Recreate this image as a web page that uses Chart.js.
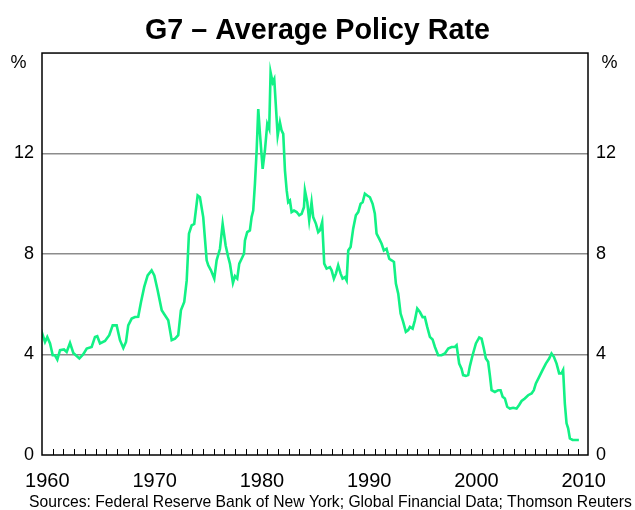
<!DOCTYPE html>
<html>
<head>
<meta charset="utf-8">
<script src="https://cdn.jsdelivr.net/npm/chart.js@4.4.1/dist/chart.umd.min.js"></script>
<style>
  body { margin: 0; background: #fff; }
  canvas { display: block; }
</style>
</head>
<body>
<canvas id="rateChart" width="635" height="510"></canvas>
<script>
// G7 average policy rate (decimal year, per cent)
const dates = [
  1960.00, 1960.07, 1960.28, 1960.49, 1960.75, 1961.00, 1961.21, 1961.43, 1961.68, 1962.05,
  1962.30, 1962.61, 1962.92, 1963.48, 1963.85, 1964.17, 1964.63, 1964.94, 1965.15, 1965.41,
  1965.87, 1966.27, 1966.59, 1966.96, 1967.27, 1967.58, 1967.83, 1968.04, 1968.36, 1968.67,
  1968.97, 1969.23, 1969.53, 1969.85, 1970.22, 1970.47, 1970.78, 1971.16, 1971.46, 1971.77,
  1972.09, 1972.40, 1972.70, 1972.95, 1973.26, 1973.49, 1973.70, 1973.95, 1974.19, 1974.51,
  1974.72, 1975.03, 1975.35, 1975.50, 1975.75, 1976.06, 1976.28, 1976.59, 1976.84, 1977.12,
  1977.36, 1977.52, 1977.80, 1977.99, 1978.20, 1978.39, 1978.61, 1978.83, 1978.92, 1979.13,
  1979.38, 1979.54, 1979.69, 1979.85, 1980.01, 1980.16, 1980.32, 1980.57, 1980.78, 1981.00,
  1981.18, 1981.31, 1981.50, 1981.65, 1981.81, 1981.97, 1982.18, 1982.34, 1982.49, 1982.65,
  1982.81, 1982.95, 1983.11, 1983.27, 1983.49, 1983.74, 1983.98, 1984.20, 1984.42, 1984.51,
  1984.73, 1984.91, 1985.13, 1985.28, 1985.54, 1985.75, 1985.91, 1986.12, 1986.31, 1986.53,
  1986.84, 1987.00, 1987.21, 1987.40, 1987.61, 1987.84, 1988.02, 1988.24, 1988.40, 1988.55,
  1988.77, 1989.01, 1989.26, 1989.48, 1989.70, 1989.89, 1990.10, 1990.32, 1990.57, 1990.82,
  1991.03, 1991.19, 1991.43, 1991.66, 1991.87, 1992.12, 1992.37, 1992.59, 1992.81, 1992.99,
  1993.21, 1993.43, 1993.67, 1993.92, 1994.14, 1994.30, 1994.55, 1994.76, 1994.98, 1995.23,
  1995.48, 1995.69, 1995.91, 1996.16, 1996.41, 1996.63, 1996.93, 1997.25, 1997.56, 1997.87,
  1998.18, 1998.49, 1998.65, 1998.89, 1999.11, 1999.26, 1999.51, 1999.73, 1999.89, 2000.14,
  2000.45, 2000.76, 2000.98, 2001.19, 2001.38, 2001.59, 2001.75, 2001.91, 2002.22, 2002.53,
  2002.75, 2002.94, 2003.15, 2003.37, 2003.62, 2003.92, 2004.24, 2004.48, 2004.71, 2005.01,
  2005.32, 2005.64, 2005.85, 2006.04, 2006.35, 2006.66, 2006.97, 2007.28, 2007.50, 2007.72,
  2007.97, 2008.21, 2008.43, 2008.58, 2008.74, 2008.90, 2009.05, 2009.21, 2009.46, 2010.05
];
const rates = [
  4.75, 4.77, 4.50, 4.70, 4.44, 3.97, 3.97, 3.80, 4.17, 4.20,
  4.10, 4.46, 4.06, 3.84, 4.01, 4.24, 4.30, 4.70, 4.73, 4.44,
  4.54, 4.77, 5.16, 5.16, 4.57, 4.26, 4.50, 5.16, 5.43, 5.49,
  5.50, 6.09, 6.69, 7.15, 7.35, 7.15, 6.56, 5.76, 5.56, 5.36,
  4.57, 4.63, 4.77, 5.76, 6.09, 6.95, 8.81, 9.14, 9.20, 10.33,
  10.26, 9.47, 7.75, 7.55, 7.35, 7.02, 7.75, 8.21, 9.20, 8.34,
  7.88, 7.62, 6.85, 7.12, 7.02, 7.62, 7.81, 8.01, 8.54, 8.87,
  8.94, 9.47, 9.73, 10.79, 12.12, 13.77, 12.78, 11.39, 12.12, 13.18,
  12.98, 15.23, 14.83, 14.97, 13.84, 12.71, 13.24, 12.91, 12.78, 11.32,
  10.53, 10.06, 10.13, 9.67, 9.73, 9.67, 9.54, 9.60, 9.86, 10.53,
  10.06, 9.34, 10.06, 9.47, 9.20, 8.87, 8.94, 9.27, 7.62, 7.42,
  7.48, 7.35, 7.02, 7.22, 7.55, 7.22, 7.02, 7.08, 6.95, 8.14,
  8.28, 9.01, 9.54, 9.67, 10.00, 10.06, 10.40, 10.33, 10.26, 10.00,
  9.60, 8.81, 8.61, 8.41, 8.14, 8.21, 7.81, 7.75, 7.68, 6.82,
  6.42, 5.63, 5.30, 4.90, 4.97, 5.10, 5.03, 5.36, 5.83, 5.69,
  5.49, 5.49, 5.10, 4.70, 4.60, 4.30, 3.97, 3.97, 4.04, 4.24,
  4.30, 4.30, 4.37, 3.64, 3.44, 3.18, 3.15, 3.18, 3.54, 3.97,
  4.44, 4.68, 4.63, 4.24, 3.84, 3.71, 3.18, 2.58, 2.51, 2.58,
  2.58, 2.32, 2.25, 1.92, 1.85, 1.88, 1.85, 1.99, 2.15, 2.25,
  2.38, 2.45, 2.58, 2.85, 3.11, 3.38, 3.64, 3.84, 4.04, 3.91,
  3.64, 3.25, 3.25, 3.38, 2.05, 1.26, 1.06, 0.66, 0.60, 0.60
];
const xTickYears = [1960, 1970, 1980, 1990, 2000, 2010];
const yTicks = [0, 4, 8, 12, 16];

const FONT = "'Liberation Sans', Arial, sans-serif";

// frame, inner year ticks, % labels and source line
const decorations = {
  id: 'decorations',
  afterDraw(chart) {
    const { ctx, chartArea: area, scales } = chart;
    ctx.save();
    ctx.strokeStyle = '#000';
    ctx.lineWidth = 1.5;
    ctx.strokeRect(area.left, area.top, area.right - area.left, area.bottom - area.top);

    ctx.lineWidth = 1;
    ctx.beginPath();
    for (let yr = 1961; yr <= 2010; yr++) {
      const x = Math.round(scales.x.getPixelForValue(yr)) + 0.5;
      ctx.moveTo(x, area.bottom);
      ctx.lineTo(x, area.bottom - 6);
    }
    ctx.stroke();

    ctx.fillStyle = '#000';
    ctx.font = '18px ' + FONT;
    ctx.textAlign = 'center';
    ctx.textBaseline = 'middle';
    ctx.fillText('%', 18.5, 63);
    ctx.fillText('%', 609.5, 63);

    ctx.font = '15.7px ' + FONT;
    ctx.textAlign = 'left';
    ctx.fillText('Sources: Federal Reserve Bank of New York; Global Financial Data; Thomson Reuters', 29, 503);
    ctx.restore();
  }
};

const yAxis = (position, width) => ({
  type: 'linear',
  position: position,
  min: 0,
  max: 16,
  afterBuildTicks: scale => { scale.ticks = yTicks.map(v => ({ value: v })); },
  afterFit: scale => { scale.width = width; },
  border: { display: false },
  grid: {
    display: position === 'left',
    drawTicks: false,
    lineWidth: 1.5,
    color: c => (c.tick.value === 0 || c.tick.value === 16) ? 'rgba(0,0,0,0)' : '#8c8c8c'
  },
  ticks: {
    padding: 8,
    color: '#000',
    font: { family: FONT, size: 18 },
    callback: v => v === 16 ? '' : v
  }
});

new Chart(document.getElementById('rateChart'), {
  type: 'line',
  data: {
    datasets: [{
      data: dates.map((d, i) => ({ x: d, y: rates[i] })),
      borderColor: '#12f185',
      borderWidth: 2.6,
      pointRadius: 0,
      tension: 0,
      fill: false
    }]
  },
  options: {
    responsive: false,
    devicePixelRatio: 1,
    animation: false,
    layout: { padding: 0 },
    plugins: {
      legend: { display: false },
      tooltip: { enabled: false },
      title: {
        display: true,
        text: 'G7 – Average Policy Rate',
        color: '#000',
        font: { family: FONT, size: 28.7, weight: 'bold' },
        padding: { top: 14, bottom: 4.6 }
      }
    },
    scales: {
      x: {
        type: 'linear',
        min: 1960,
        max: 2010.9,
        afterBuildTicks: scale => { scale.ticks = xTickYears.map(v => ({ value: v + 0.5 })); },
        afterFit: scale => { scale.height = 55; },
        border: { display: false },
        grid: { display: false },
        ticks: {
          autoSkip: false,
          maxRotation: 0,
          padding: 6,
          color: '#000',
          font: { family: FONT, size: 20 },
          callback: (v, i) => String(xTickYears[i])
        }
      },
      y: yAxis('left', 42),
      y2: yAxis('right', 47)
    }
  },
  plugins: [decorations]
});
</script>
</body>
</html>
